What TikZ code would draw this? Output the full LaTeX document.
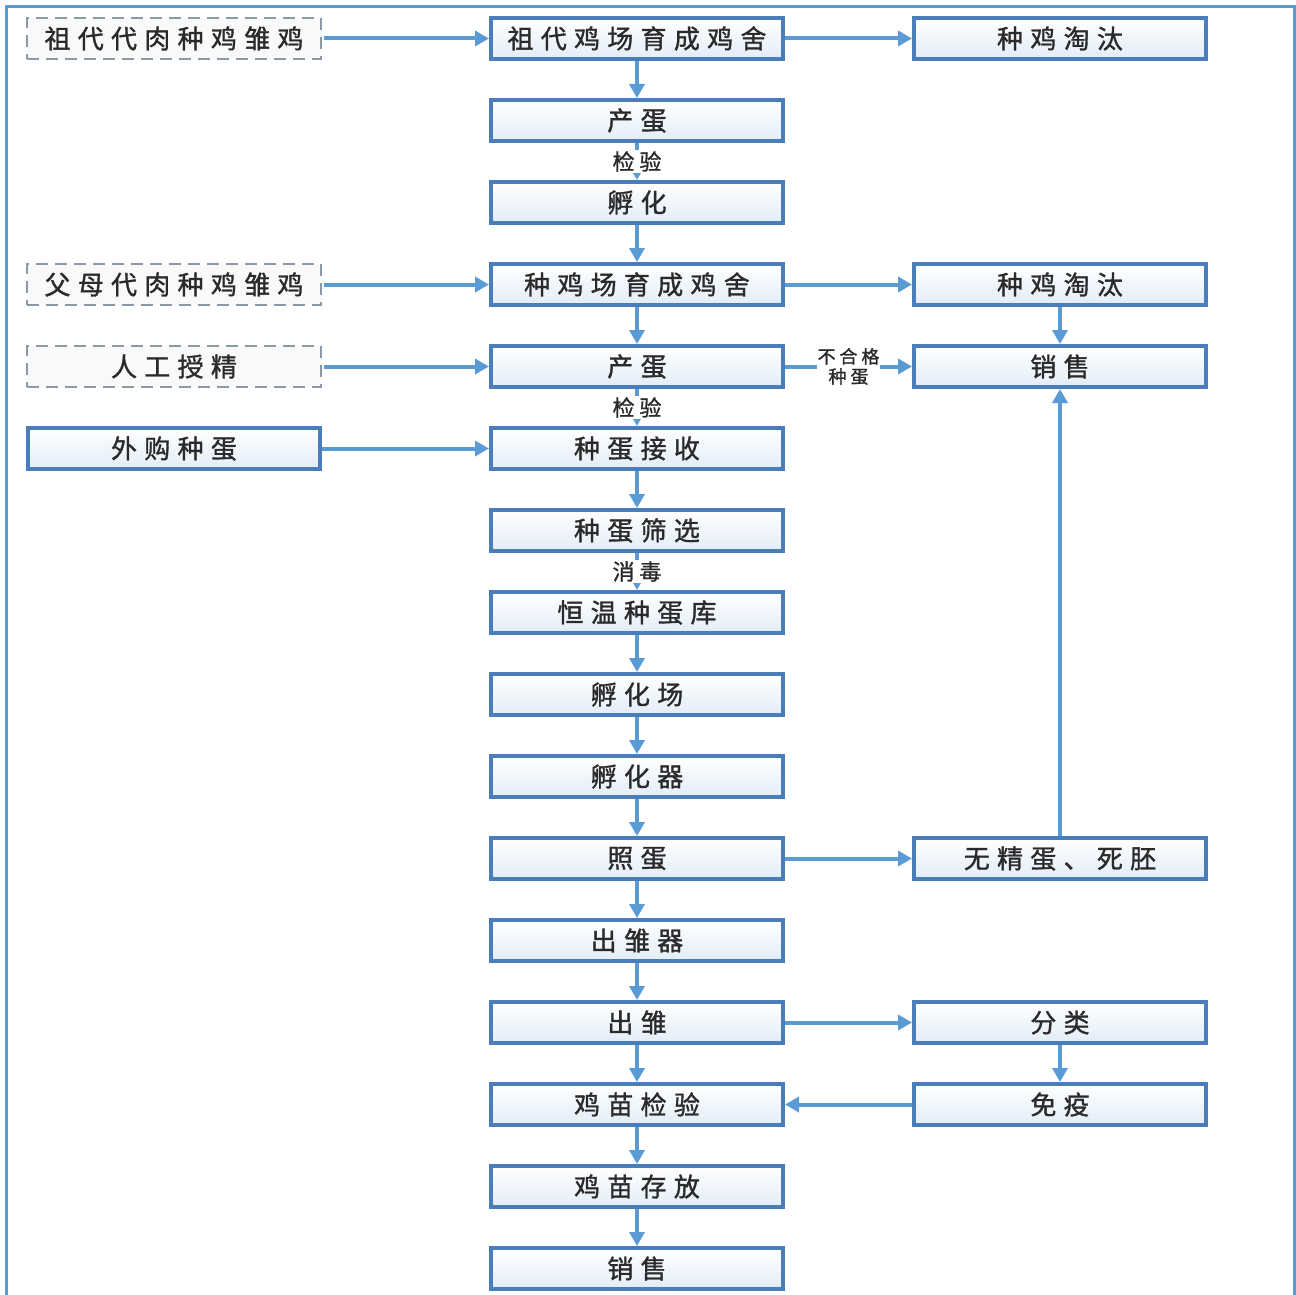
\documentclass[tikz,border=0pt]{standalone}
\usepackage{fontspec}
\newfontfamily\cjk{Noto Sans CJK SC}[LetterSpace=28,FakeBold=1.2]
\newfontfamily\cjksmall{Noto Sans CJK SC}[LetterSpace=22,FakeBold=1.2]
\usetikzlibrary{arrows.meta,calc}
\definecolor{framec}{HTML}{5B9BD5}
\definecolor{boxborder}{HTML}{4A7EBB}
\definecolor{arrowc}{HTML}{5B9BD5}
\definecolor{dashc}{HTML}{8C98A6}
\definecolor{txt}{HTML}{2A2A2A}
\definecolor{boxbot}{HTML}{E2ECF7}
\tikzset{
  procbox/.style={draw=boxborder, line width=4pt, top color=white, bottom color=boxbot,
    minimum width=292pt, minimum height=41pt, inner sep=0pt, font=\cjk\fontsize{26}{28}\selectfont, text=txt},
  dashbox/.style={draw=dashc, line width=2pt, dash pattern=on 12pt off 7pt, fill=gray!5,
    minimum width=294pt, minimum height=41pt, inner sep=0pt, font=\cjk\fontsize{26}{28}\selectfont, text=txt},
  flow/.style={draw=arrowc, line width=4pt, -{Triangle[length=14pt,width=15pt]}},
  lab/.style={fill=white, inner sep=1pt, font=\cjksmall\fontsize{22}{24}\selectfont, text=txt},
  labs/.style={fill=white, inner sep=1pt, align=center, font=\cjksmall\fontsize{18}{20}\selectfont, text=txt},
}
\begin{document}
\begin{tikzpicture}[x=1pt,y=-1pt]
\useasboundingbox (0,0) rectangle (1296,1295);
% frame
\draw[framec, line width=3pt] (6,1296) -- (6,7) -- (1294,7) -- (1294,1296);
% center column
\foreach \i/\t in {0/祖代鸡场育成鸡舍,1/产蛋,2/孵化,3/种鸡场育成鸡舍,4/产蛋,5/种蛋接收,6/种蛋筛选,7/恒温种蛋库,8/孵化场,9/孵化器,10/照蛋,11/出雏器,12/出雏,13/鸡苗检验,14/鸡苗存放,15/销售}
  \node[procbox] (c\i) at (637,38.5+82*\i) {\t};
% left column
\node[dashbox] (l0) at (174,38.5) {祖代代肉种鸡雏鸡};
\node[dashbox] (l3) at (174,284.5) {父母代肉种鸡雏鸡};
\node[dashbox] (l4) at (174,366.5) {人工授精};
\node[procbox] (l5) at (174,448.5) {外购种蛋};
% right column
\node[procbox] (r0) at (1060,38.5) {种鸡淘汰};
\node[procbox] (r3) at (1060,284.5) {种鸡淘汰};
\node[procbox] (r4) at (1060,366.5) {销售};
\node[procbox] (r10) at (1060,858.5) {无精蛋、死胚};
\node[procbox] (r12) at (1060,1022.5) {分类};
\node[procbox] (r13) at (1060,1104.5) {免疫};
% vertical center arrows
\foreach \i [evaluate=\i as \j using int(\i+1)] in {0,...,14}
  \draw[flow] (c\i) -- (c\j);
\node[lab] at ($(c1.south)!0.5!(c2.north)$) {检验};
\node[lab] at ($(c4.south)!0.5!(c5.north)$) {检验};
\node[lab] at ($(c6.south)!0.5!(c7.north)$) {消毒};
% left to center
\coordinate (l0e) at ($(l0.east)+(2,0)$);
\coordinate (l3e) at ($(l3.east)+(2,0)$);
\coordinate (l4e) at ($(l4.east)+(2,0)$);
\draw[flow] (l0e) -- (c0);
\draw[flow] (l3e) -- (c3);
\draw[flow] (l4e) -- (c4);
\draw[flow] (l5) -- (c5);
% center to right
\draw[flow] (c0) -- (r0);
\draw[flow] (c3) -- (r3);
\draw[flow] (c4) -- node[labs] {不合格\\种蛋} (r4);
\draw[flow] (c10) -- (r10);
\draw[flow] (c12) -- (r12);
\draw[flow] (r13) -- (c13);
% right verticals
\draw[flow] (r3) -- (r4);
\draw[flow] (r12) -- (r13);
\draw[flow] (r10) -- (r4);
\end{tikzpicture}
\end{document}
